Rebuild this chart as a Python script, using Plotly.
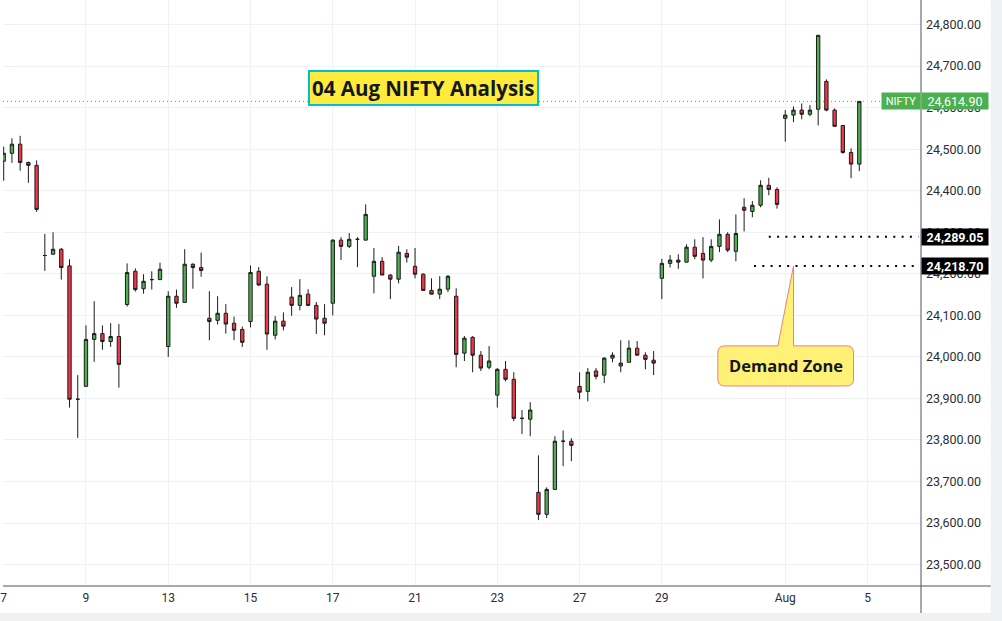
import plotly.graph_objects as go

# NIFTY 75-minute candles, 7 Jul .. 4 Aug
opens = [24471, 24490, 24512, 24468, 24461, 24244, 24247, 24259, 24219, 23898,
         23929, 24042, 24056, 24037, 24049, 24126, 24206, 24164, 24186, 24186,
         24025, 24146, 24131, 24223, 24215, 24093, 24088, 24105, 24081, 24066,
         24085, 24206, 24175, 24052, 24086, 24144, 24124, 24151, 24124, 24093,
         24129, 24281, 24266, 24283, 24281, 24194, 24230, 24197, 24187, 24249,
         24218, 24199, 24160, 24151, 24163, 24146, 24009, 24047, 24004, 23975,
         23908, 23970, 23946, 23852, 23850, 23674, 23621, 23681, 23797, 23797,
         23929, 23917, 23966, 23956, 23997, 23978, 23987, 24021, 24004, 23992,
         24189, 24225, 24233, 24228, 24264, 24249, 24233, 24266, 24295, 24254,
         24360, 24350, 24365, 24413, 24403, 24574, 24582, 24594, 24584, 24596,
         24663, 24594, 24557, 24492, 24464]
highs = [24506, 24526, 24532, 24470, 24473, 24296, 24300, 24262, 24235, 23956,
         24076, 24134, 24076, 24081, 24079, 24225, 24213, 24199, 24206, 24227,
         24158, 24162, 24259, 24225, 24251, 24158, 24146, 24127, 24097, 24073,
         24220, 24216, 24194, 24098, 24107, 24168, 24187, 24163, 24132, 24127,
         24283, 24288, 24298, 24288, 24367, 24262, 24240, 24199, 24267, 24259,
         24262, 24201, 24189, 24194, 24197, 24165, 24050, 24050, 24014, 24026,
         23973, 23990, 23963, 23872, 23891, 23763, 23686, 23809, 23823, 23804,
         23963, 23973, 23973, 23999, 24011, 24040, 24040, 24038, 24011, 24014,
         24236, 24245, 24247, 24271, 24283, 24288, 24283, 24331, 24300, 24343,
         24382, 24375, 24425, 24431, 24408, 24594, 24603, 24610, 24606, 24774,
         24668, 24598, 24557, 24502, 24615]
lows = [24424, 24467, 24448, 24419, 24349, 24207, 24247, 24186, 23878, 23805,
        23929, 23988, 24017, 24024, 23926, 24121, 24157, 24152, 24162, 24186,
        24000, 24118, 24131, 24164, 24193, 24040, 24078, 24056, 24040, 24024,
        24071, 24171, 24017, 24042, 24064, 24099, 24112, 24122, 24055, 24052,
        24100, 24233, 24262, 24216, 24281, 24153, 24197, 24139, 24177, 24227,
        24189, 24160, 24151, 24139, 24156, 23975, 23990, 23963, 23966, 23970,
        23878, 23941, 23845, 23814, 23809, 23607, 23612, 23681, 23737, 23749,
        23898, 23893, 23946, 23937, 23987, 23963, 23987, 24004, 23970, 23956,
        24139, 24215, 24212, 24228, 24235, 24189, 24228, 24252, 24252, 24230,
        24302, 24336, 24360, 24389, 24357, 24518, 24565, 24572, 24579, 24557,
        24591, 24555, 24489, 24430, 24447]
closes = [24490, 24512, 24468, 24461, 24355, 24244, 24259, 24215, 23898, 23898,
          24042, 24056, 24037, 24049, 23982, 24203, 24162, 24182, 24186, 24211,
          24146, 24129, 24223, 24215, 24208, 24085, 24105, 24079, 24064, 24035,
          24203, 24173, 24055, 24086, 24074, 24124, 24148, 24124, 24091, 24081,
          24281, 24266, 24283, 24283, 24343, 24230, 24197, 24187, 24252, 24240,
          24199, 24160, 24151, 24163, 24194, 24006, 24045, 24004, 23973, 23990,
          23970, 23946, 23852, 23852, 23872, 23621, 23681, 23797, 23797, 23787,
          23915, 23963, 23953, 23997, 24004, 23985, 24021, 24004, 23994, 23985,
          24225, 24233, 24228, 24264, 24242, 24233, 24266, 24295, 24257, 24297,
          24353, 24365, 24413, 24403, 24367, 24582, 24594, 24584, 24594, 24774,
          24594, 24555, 24492, 24464, 24614.90]

bar_index = list(range(len(opens)))

# date labels on the time scale (bar number of first candle of that day)
date_ticks = [0, 10, 20, 30, 40, 50, 60, 70, 80, 95, 105]
date_labels = ['7', '9', '13', '15', '17', '21', '23', '27', '29', 'Aug', '5']

price_ticks = [23500, 23600, 23700, 23800, 23900, 24000, 24100,
               24200, 24300, 24400, 24500, 24600, 24700, 24800]

symbol = 'NIFTY'
last_price = 24614.90
level_high = 24289.05
level_low = 24218.70

W, H = 1002, 621
M_L, M_R, M_T, M_B = 0, 81, 0, 35
plot_w = W - M_L - M_R
plot_h = H - M_T - M_B
x_range = [-0.085, 111.5]
y_range = [23448.5, 24859.0]
ux = (x_range[1] - x_range[0]) / plot_w   # bars per pixel
uy = (y_range[1] - y_range[0]) / plot_h   # points per pixel

fig = go.Figure()

fig.add_trace(go.Candlestick(
    x=bar_index,
    open=opens,
    high=highs,
    low=lows,
    close=closes,
    increasing=dict(line=dict(color='#1c1c1c', width=1), fillcolor='#4caf50'),
    decreasing=dict(line=dict(color='#1c1c1c', width=1), fillcolor='#f23645'),
    whiskerwidth=0,
    showlegend=False,
    hoverinfo='skip',
))

shapes = []

# outer frame strip (light grey) outside of the chart canvas
shapes.append(dict(type='rect', xref='paper', yref='paper',
                   x0=991 / plot_w, x1=1.2, y0=-0.2, y1=1.01,
                   fillcolor='#f0f1f3', line=dict(width=0), layer='below'))
shapes.append(dict(type='rect', xref='paper', yref='paper',
                   x0=-0.01, x1=1.2, y0=-(613 - plot_h) / plot_h, y1=-0.2,
                   fillcolor='#f0f1f3', line=dict(width=0), layer='below'))

# scale borders
shapes.append(dict(type='line', xref='paper', yref='paper',
                   x0=1, x1=1, y0=-(613 - plot_h) / plot_h, y1=1,
                   line=dict(color='#50535e', width=1)))
shapes.append(dict(type='line', xref='paper', yref='paper',
                   x0=0, x1=991 / plot_w, y0=0, y1=0,
                   line=dict(color='#50535e', width=1)))

# last price line
shapes.append(dict(type='line', xref='paper', yref='y',
                   x0=0, x1=1, y0=last_price, y1=last_price,
                   line=dict(color='#6f9f72', width=1, dash='1px,3px'),
                   layer='below'))

# demand zone levels
shapes.append(dict(type='line', xref='x', yref='y',
                   x0=93.0, x1=111.2, y0=level_high, y1=level_high,
                   line=dict(color='#000000', width=2, dash='2px,6.3px')))
shapes.append(dict(type='line', xref='x', yref='y',
                   x0=91.2, x1=111.2, y0=level_low, y1=level_low,
                   line=dict(color='#000000', width=2, dash='2px,6.3px')))

# "Demand Zone" callout: rounded box with a pointer up to the lower level
bl, br = 86.8, 103.3
bt, bb = 24026.5, 23930.0
rx, ry = 7 * ux, 7 * uy
pl, pr = 94.1, 96.0
path = (f'M {bl + rx},{bt} L {pl},{bt} L {pr},{level_low} L {pr},{bt} '
        f'L {br - rx},{bt} Q {br},{bt} {br},{bt - ry} '
        f'L {br},{bb + ry} Q {br},{bb} {br - rx},{bb} '
        f'L {bl + rx},{bb} Q {bl},{bb} {bl},{bb + ry} '
        f'L {bl},{bt - ry} Q {bl},{bt} {bl + rx},{bt} Z')
shapes.append(dict(type='path', xref='x', yref='y', path=path,
                   fillcolor='#fff176', line=dict(color='#f08080', width=1)))

annotations = []

annotations.append(dict(
    x=51.0, y=24647.5, xref='x', yref='y', showarrow=False,
    text='<b>04 Aug NIFTY Analysis</b>',
    font=dict(family='Open Sans', size=20.5, color='#131722'),
    bgcolor='#ffeb3b', bordercolor='#00bcd4', borderwidth=2, borderpad=2,
))

annotations.append(dict(
    x=(bl + br) / 2, y=(bt + bb) / 2, xref='x', yref='y', showarrow=False,
    text='<b>Demand Zone</b>',
    font=dict(family='Open Sans', size=16.5, color='#131722'),
))

# price scale labels
annotations.append(dict(
    x=1, y=last_price, xref='paper', yref='y', xanchor='left', yanchor='middle',
    showarrow=False, text=f'{last_price:,.2f}',
    font=dict(family='Roboto', size=12.5, color='white'),
    bgcolor='#4caf50', width=64, height=14, borderpad=1,
))
annotations.append(dict(
    x=1, y=last_price, xref='paper', yref='y', xanchor='right', yanchor='middle',
    showarrow=False, text=symbol,
    font=dict(family='Roboto', size=11, color='white'),
    bgcolor='#4caf50', width=36, height=14, borderpad=1,
))
for lvl in (level_high, level_low):
    annotations.append(dict(
        x=1, y=lvl, xref='paper', yref='y', xanchor='left', yanchor='middle',
        showarrow=False, text=f'<b>{lvl:,.2f}</b>',
        font=dict(family='Roboto', size=12.5, color='white'),
        bgcolor='#000000', width=64, height=14, borderpad=1,
    ))

fig.update_layout(
    width=W, height=H,
    margin=dict(l=M_L, r=M_R, t=M_T, b=M_B),
    paper_bgcolor='white',
    plot_bgcolor='white',
    shapes=shapes,
    annotations=annotations,
    showlegend=False,
    boxgap=0.42,
    xaxis=dict(
        range=x_range,
        rangeslider=dict(visible=False),
        tickmode='array', tickvals=date_ticks, ticktext=date_labels,
        showgrid=True, gridcolor='#eef1f6', gridwidth=1,
        zeroline=False, showline=False, ticks='',
        ticklabelstandoff=3, ticklabeloverflow='allow',
        tickfont=dict(family='Roboto', size=12, color='#2a2e39'),
        fixedrange=True,
    ),
    yaxis=dict(
        range=y_range, side='right',
        tickmode='array', tickvals=price_ticks,
        tickformat=',.2f',
        showgrid=True, gridcolor='#eef1f6', gridwidth=1,
        zeroline=False, showline=False, ticks='',
        ticklabelstandoff=4,
        tickfont=dict(family='Roboto', size=12.5, color='#2a2e39'),
        fixedrange=True,
    ),
)

# the page is photographed at exactly the figure size, so drop the body margin
fig.write_html("out.html", config={'displayModeBar': False},
               post_script="document.body.style.margin = '0';")
